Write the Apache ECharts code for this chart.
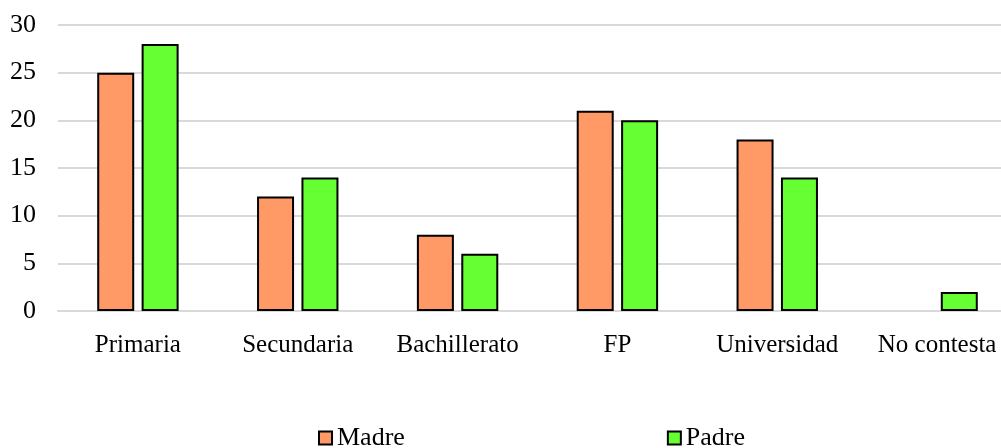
<!DOCTYPE html>
<html>
<head>
<meta charset="utf-8">
<script src="https://cdn.jsdelivr.net/npm/echarts@6/dist/echarts.min.js"></script>
<style>
  html, body { margin: 0; padding: 0; background: #fff; }
  #chart { width: 1001px; height: 448px; }
</style>
</head>
<body>
<div id="chart"></div>
<script>
var categories = ['Primaria', 'Secundaria', 'Bachillerato', 'FP', 'Universidad', 'No contesta'];
var madre = [25, 12, 8, 21, 18, 0];
var padre = [28, 14, 6, 20, 14, 2];
var yTicks = [0, 5, 10, 15, 20, 25, 30];

var font = '"Liberation Serif", "Times New Roman", serif';
var chart = echarts.init(document.getElementById('chart'));

// zero values get no outline, like the original
function toBars(values) {
    return values.map(function (v) {
        return v === 0 ? { value: v, itemStyle: { borderWidth: 0 } } : v;
    });
}

var option = {
    animation: false,
    textStyle: { fontFamily: font, color: '#000' },
    grid: { left: 58, right: -16, top: 25, bottom: 137, outerBoundsMode: 'none' },
    legend: {
        bottom: -8,
        left: 313,
        icon: 'rect',
        itemWidth: 13,
        itemHeight: 13,
        itemGap: 262,
        textStyle: { fontFamily: font, fontSize: 26, color: '#000' },
        data: ['Madre', 'Padre']
    },
    xAxis: {
        type: 'category',
        data: categories,
        axisLine: { lineStyle: { color: '#d9d9d9', width: 2 } },
        axisTick: { show: false },
        axisLabel: { fontFamily: font, fontSize: 25, color: '#000', margin: 22 }
    },
    yAxis: {
        type: 'value',
        min: yTicks[0],
        max: yTicks[yTicks.length - 1],
        interval: 5,
        axisLine: { show: false },
        axisTick: { show: false },
        splitLine: { lineStyle: { color: '#d9d9d9', width: 2 } },
        axisLabel: { fontFamily: font, fontSize: 26, color: '#000', margin: 22 }
    },
    series: [
        {
            name: 'Madre',
            type: 'bar',
            data: toBars(madre),
            barWidth: 37,
            barGap: '20%',
            itemStyle: { color: '#ff9966', borderColor: '#000', borderWidth: 2 }
        },
        {
            name: 'Padre',
            type: 'bar',
            data: toBars(padre),
            barWidth: 37,
            itemStyle: { color: '#66ff33', borderColor: '#000', borderWidth: 2 }
        }
    ]
};

chart.setOption(option);
</script>
</body>
</html>
